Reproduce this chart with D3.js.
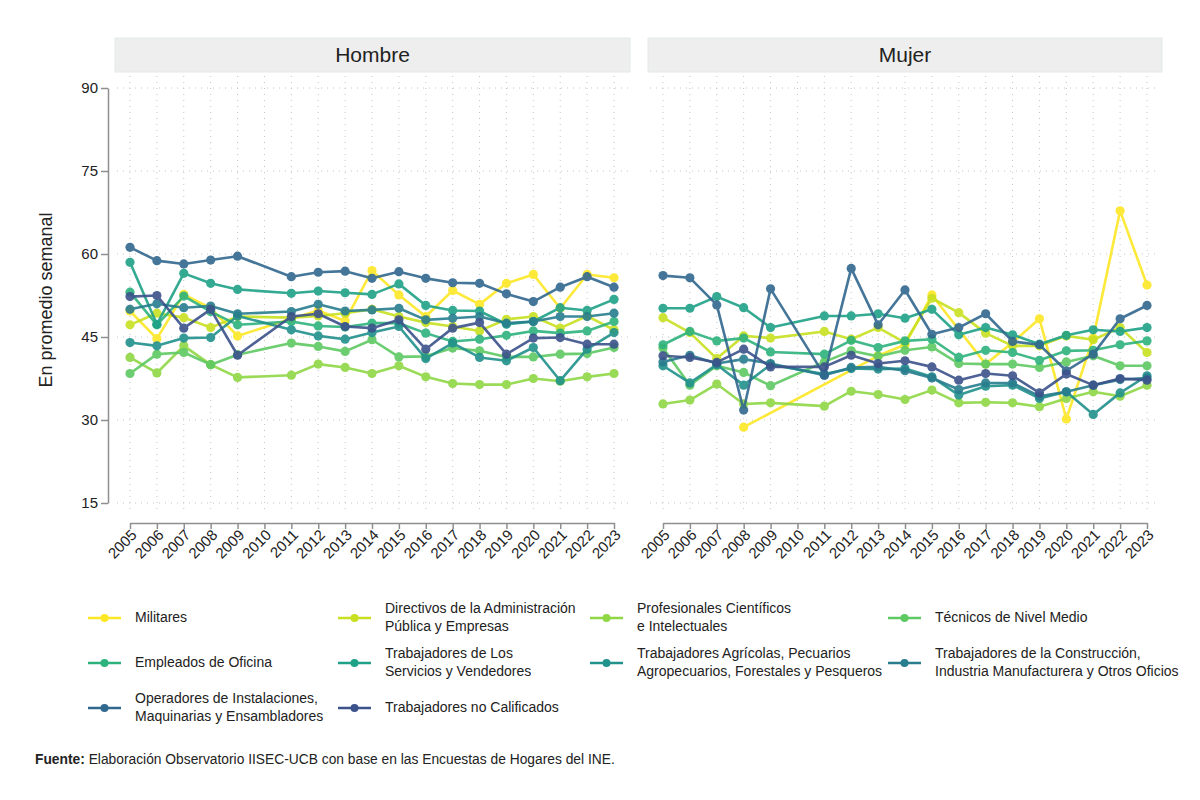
<!DOCTYPE html>
<html>
<head>
<meta charset="utf-8">
<script src="https://cdn.jsdelivr.net/npm/d3@7"></script>
<style>
body{margin:0;background:#fff}
text{font-family:"Liberation Sans",Arial,sans-serif;fill:#222}
</style>
</head>
<body>
<svg id="chart" width="1200" height="800"></svg>
<script>
// years on the x axis (2010 has no survey data)
let years = [2005,2006,2007,2008,2009,2010,2011,2012,2013,2014,2015,2016,2017,2018,2019,2020,2021,2022,2023]
let yTicks = [15,30,45,60,75,90]

let occupations = [
  ["Militares"],
  ["Directivos de la Administración","Pública y Empresas"],
  ["Profesionales Científicos","e Intelectuales"],
  ["Técnicos de Nivel Medio"],
  ["Empleados de Oficina"],
  ["Trabajadores de Los","Servicios y Vendedores"],
  ["Trabajadores Agrícolas, Pecuarios","Agropecuarios, Forestales y Pesqueros"],
  ["Trabajadores de la Construcción,","Industria Manufacturera y Otros Oficios"],
  ["Operadores de Instalaciones,","Maquinarias y Ensambladores"],
  ["Trabajadores no Calificados"]
]

// Hombre
let hMilitares     = [49.7,44.7,52.7,50.2,45.2,null,48.3,49.8,47.9,57.0,52.6,48.7,53.4,50.9,54.7,56.3,50.2,56.3,55.7]
let hDirectivos    = [47.2,49.3,48.5,46.7,48.7,null,48.5,48.8,49.3,50.0,48.7,47.6,46.9,46.1,48.2,48.7,46.6,48.8,46.3]
let hProfesionales = [41.3,38.5,43.4,40.0,37.7,null,38.1,40.1,39.5,38.4,39.8,37.8,36.6,36.4,36.4,37.5,37.0,37.8,38.4]
let hTecnicos      = [38.4,41.9,42.2,40.0,41.8,null,43.9,43.3,42.4,44.5,41.4,41.5,43.0,42.5,41.4,41.4,41.9,42.0,43.1]
let hEmpleados     = [53.1,47.2,52.4,49.6,47.2,null,47.8,47.0,46.8,47.5,47.5,45.7,44.2,44.6,45.3,46.1,45.7,46.1,47.8]
let hServicios     = [58.5,47.3,56.5,54.7,53.6,null,52.9,53.3,53.0,52.7,54.6,50.7,49.8,49.7,47.3,47.8,50.3,49.8,51.8]
let hAgricolas     = [44.0,43.4,44.8,44.9,48.8,null,46.3,45.2,44.6,45.8,46.9,41.1,43.9,41.3,40.7,43.1,37.1,42.8,45.8]
let hConstruccion  = [50.0,51.0,50.3,50.6,49.2,null,49.6,50.9,49.7,49.9,50.2,48.1,48.4,48.7,47.5,47.8,48.7,48.7,49.3]
let hOperadores    = [61.2,58.8,58.2,58.9,59.6,null,55.9,56.7,56.9,55.6,56.8,55.6,54.8,54.7,52.8,51.4,54.0,55.9,54.0]
let hNoCalif       = [52.3,52.5,46.6,50.0,41.7,null,48.7,49.2,46.9,46.6,48.1,42.8,46.6,47.6,41.9,44.8,44.9,43.7,43.7]

// Mujer
let mMilitares     = [null,null,null,28.7,null,null,null,null,41.6,43.6,52.6,null,40.1,44.0,48.3,30.2,44.8,67.8,54.4]
let mDirectivos    = [48.5,45.8,41.1,45.2,44.8,null,46.0,44.6,46.7,44.0,52.0,49.4,45.7,43.4,43.4,45.2,44.5,46.7,42.2]
let mProfesionales = [32.9,33.6,36.5,32.9,33.1,null,32.5,35.2,34.6,33.7,35.4,33.1,33.2,33.1,32.4,33.9,35.1,34.3,36.3]
let mTecnicos      = [43.0,36.3,39.8,38.6,36.2,null,40.5,42.5,41.5,42.6,43.2,40.2,40.1,40.1,39.5,40.5,41.6,39.8,39.8]
let mEmpleados     = [43.6,46.0,44.3,44.8,42.3,null,41.9,44.4,43.1,44.3,44.6,41.3,42.6,42.2,40.8,42.5,42.6,43.6,44.3]
let mServicios     = [50.2,50.2,52.3,50.3,46.7,null,48.8,48.8,49.2,48.4,50.0,45.4,46.7,45.4,43.7,45.3,46.3,46.0,46.7]
let mAgricolas     = [39.8,36.7,40.0,36.3,40.0,null,38.3,39.3,39.2,39.3,37.8,34.5,36.1,36.3,33.9,35.1,31.0,34.9,38.0]
let mConstruccion  = [40.5,41.7,40.2,41.0,40.2,null,38.1,39.5,39.6,38.9,37.6,35.5,36.7,36.7,34.3,35.1,36.3,37.3,37.6]
let mOperadores    = [56.1,55.7,50.8,31.8,53.7,null,38.1,57.4,47.2,53.5,45.5,46.7,49.2,44.2,43.6,38.9,41.9,48.3,50.7]
let mNoCalif       = [41.6,41.3,40.4,42.8,39.6,null,39.6,41.7,40.2,40.7,39.6,37.2,38.4,38.0,34.9,38.3,36.3,37.5,37.2]

let hombre = [hMilitares,hDirectivos,hProfesionales,hTecnicos,hEmpleados,hServicios,hAgricolas,hConstruccion,hOperadores,hNoCalif]
let mujer  = [mMilitares,mDirectivos,mProfesionales,mTecnicos,mEmpleados,mServicios,mAgricolas,mConstruccion,mOperadores,mNoCalif]

let colors = ["#fde725","#c8e020","#8fd744","#5ec962","#2db27d","#1fa187","#21918c","#287d8e","#31688e","#3b528b"]

let svg = d3.select('#chart')

let y = d3.scaleLinear().domain([15,90]).range([503,88])

let panels = [
  {name:'Hombre', x0:130, x1:614, left:115, right:630, data:hombre},
  {name:'Mujer',  x0:663, x1:1147, left:648, right:1162, data:mujer}
]

panels.forEach((p)=>{
  let x = d3.scaleLinear().domain([2005,2023]).range([p.x0,p.x1])
  let g = svg.append('g')

  // header strip
  g.append('rect')
   .attr('x',p.left).attr('y',38).attr('width',p.right-p.left).attr('height',34)
   .attr('fill','#eeeeee').attr('stroke','#e2eaea')
  g.append('text')
   .attr('x',(p.left+p.right)/2).attr('y',56)
   .attr('text-anchor','middle').attr('dominant-baseline','middle')
   .style('font-size','21px')
   .text(p.name)

  // dotted grid
  g.selectAll('.vgrid').data(years).enter().append('line')
   .attr('x1',d=>x(d)).attr('x2',d=>x(d)).attr('y1',76).attr('y2',510)
   .attr('stroke','#c4c4c4').attr('stroke-width',1).attr('stroke-dasharray','1,5')
  g.selectAll('.hgrid').data(yTicks).enter().append('line')
   .attr('x1',p.left+2).attr('x2',p.right-2).attr('y1',d=>y(d)).attr('y2',d=>y(d))
   .attr('stroke','#c4c4c4').attr('stroke-width',1).attr('stroke-dasharray','1,5')

  // x axis
  let xAxis = g.append('g')
   .attr('transform','translate(0,523)')
   .call(d3.axisBottom(x).tickValues(years).tickFormat(d3.format('d')).tickSize(6).tickSizeOuter(0))
  xAxis.select('.domain').attr('stroke','#8f8f8f').attr('stroke-width',1.5)
  xAxis.selectAll('.tick line').attr('stroke','#8f8f8f').attr('stroke-width',1.5)
  xAxis.selectAll('text')
   .attr('x',-4).attr('y',9).attr('dy','0.35em')
   .attr('transform','rotate(-45)')
   .style('text-anchor','end').style('font-size','15px').style('font-family','"Liberation Sans",Arial,sans-serif')

  // series
  let line = d3.line().x(d=>x(d.year)).y(d=>y(d.value))
  p.data.forEach((vals,i)=>{
    let pts = years.map((yr,j)=>({year:yr, value:vals[j]})).filter(d=>d.value != null)
    let sg = g.append('g').attr('opacity',0.9)
    sg.append('path').datum(pts)
      .attr('d',line).attr('fill','none')
      .attr('stroke',colors[i]).attr('stroke-width',2.6).attr('stroke-linejoin','round')
    sg.selectAll('circle').data(pts).enter().append('circle')
      .attr('cx',d=>x(d.year)).attr('cy',d=>y(d.value)).attr('r',4.6)
      .attr('fill',colors[i])
  })
})

// y axis (left panel only)
let yAxis = svg.append('g')
  .attr('transform','translate(108,0)')
  .call(d3.axisLeft(y).tickValues(yTicks).tickSize(7).tickSizeOuter(0).tickPadding(3))
yAxis.select('.domain').attr('stroke','#8f8f8f').attr('stroke-width',1.5)
yAxis.selectAll('.tick line').attr('stroke','#8f8f8f').attr('stroke-width',1.5)
yAxis.selectAll('text').style('font-size','15px').style('font-family','"Liberation Sans",Arial,sans-serif')

svg.append('text')
  .attr('transform','translate(52,300) rotate(-90)')
  .attr('text-anchor','middle')
  .style('font-size','18px')
  .text('En promedio semanal')

// legend
let legCols = [88,338,590,888]
let legRows = [618,663,708]
occupations.forEach((lab,i)=>{
  let lx = legCols[i%4], ly = legRows[Math.floor(i/4)]
  let lg = svg.append('g')
  lg.append('line').attr('x1',lx).attr('x2',lx+33).attr('y1',ly).attr('y2',ly)
    .attr('stroke',colors[i]).attr('stroke-width',2.6)
  lg.append('circle').attr('cx',lx+16.5).attr('cy',ly).attr('r',4).attr('fill',colors[i])
  lab.forEach((t,k)=>{
    lg.append('text')
      .attr('x',lx+47).attr('y',ly + (lab.length==1 ? 0 : (k==0 ? -9 : 9)))
      .attr('dominant-baseline','middle')
      .style('font-size','14px')
      .text(t)
  })
})

// source note
let note = svg.append('text').attr('x',35).attr('y',760).attr('dominant-baseline','middle').style('font-size','13.8px')
note.append('tspan').style('font-weight','bold').text('Fuente:')
note.append('tspan').text(' Elaboración Observatorio IISEC-UCB con base en las Encuestas de Hogares del INE.')
</script>
</body>
</html>
